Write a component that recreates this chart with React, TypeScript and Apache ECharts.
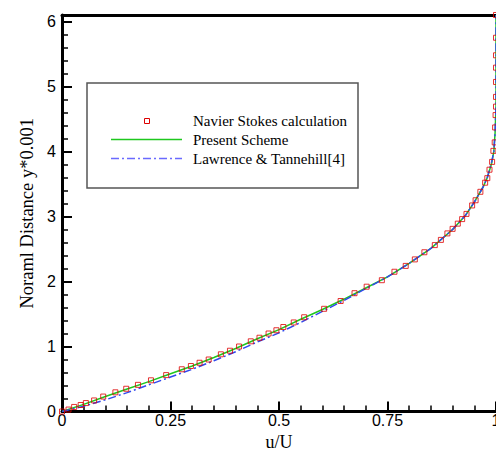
import React, { useEffect, useRef } from "react";
import * as echarts from "echarts";

// Navier Stokes calculation (squares)
const nsU = [0, 0.015, 0.028, 0.043, 0.055, 0.074, 0.095, 0.123, 0.148, 0.175, 0.205, 0.24, 0.276, 0.297, 0.317, 0.338, 0.366, 0.387, 0.408, 0.435, 0.455, 0.476, 0.494, 0.51, 0.534, 0.558, 0.604, 0.642, 0.674, 0.702, 0.737, 0.766, 0.792, 0.813, 0.835, 0.859, 0.873, 0.888, 0.9, 0.912, 0.922, 0.932, 0.945, 0.953, 0.964, 0.975, 0.98, 0.985, 0.991, 0.994, 0.997, 0.998, 0.999, 1, 1, 1, 1, 1, 1, 1];
const nsY = [0, 0.03, 0.07, 0.1, 0.13, 0.17, 0.23, 0.295, 0.35, 0.41, 0.48, 0.56, 0.65, 0.7, 0.75, 0.8, 0.88, 0.935, 1.0, 1.08, 1.135, 1.2, 1.25, 1.3, 1.37, 1.45, 1.58, 1.7, 1.82, 1.92, 2.02, 2.15, 2.24, 2.34, 2.45, 2.56, 2.64, 2.74, 2.81, 2.89, 2.96, 3.04, 3.17, 3.25, 3.38, 3.52, 3.59, 3.72, 3.84, 4.01, 4.14, 4.37, 4.56, 4.69, 4.84, 5.07, 5.29, 5.48, 5.75, 6.1];

// Present Scheme (green solid line)
const presentU = [0, 0.05, 0.1, 0.15, 0.2, 0.25, 0.3, 0.35, 0.4, 0.45, 0.5, 0.55, 0.6, 0.65, 0.7, 0.75, 0.8, 0.85, 0.9, 0.93, 0.95, 0.97, 0.98, 0.99, 0.995, 0.998, 1, 1];
const presentY = [0, 0.11, 0.23, 0.345, 0.46, 0.58, 0.7, 0.83, 0.97, 1.12, 1.26, 1.42, 1.57, 1.73, 1.9, 2.07, 2.28, 2.51, 2.8, 3.02, 3.22, 3.45, 3.6, 3.82, 4.0, 4.3, 4.7, 6.1];

// Lawrence & Tannehill[4] (blue dash-dot line)
const lawrenceU = [0, 0.05, 0.1, 0.15, 0.2, 0.25, 0.3, 0.35, 0.4, 0.45, 0.5, 0.55, 0.6, 0.65, 0.7, 0.75, 0.8, 0.85, 0.9, 0.93, 0.95, 0.97, 0.98, 0.99, 0.995, 0.998, 1, 1];
const lawrenceY = [0, 0.08, 0.18, 0.29, 0.41, 0.53, 0.65, 0.78, 0.92, 1.07, 1.21, 1.37, 1.54, 1.71, 1.89, 2.07, 2.28, 2.51, 2.8, 3.02, 3.22, 3.45, 3.6, 3.84, 4.0, 4.3, 4.7, 6.1];

// Axis ticks
const yMajorTicks = [0, 1, 2, 3, 4, 5, 6];
const yMinorTicks: number[] = [];
for (let i = 0; i < 6; i++) {
  for (let j = 1; j < 5; j++) yMinorTicks.push(+(i + j * 0.2).toFixed(2));
}

const legendNames = ["Navier Stokes calculation", "Present Scheme", "Lawrence & Tannehill[4]"];

const SERIF = "'Liberation Serif', 'Times New Roman', serif";
const SANS = "'Liberation Sans', Arial, sans-serif";
const RED = "#dd0000";
const GREEN = "#1ec81e";
const BLUE = "#3048ee";

const zip = (a: number[], b: number[]) => a.map((v, i) => [v, b[i]]);

export default function App() {
  const ref = useRef<HTMLDivElement>(null);
  useEffect(() => {
    document.body.style.margin = "0";
    document.body.style.overflow = "hidden";
    const chart = echarts.init(ref.current!, null, { renderer: "svg" });
    const option: any = {
      animation: false,
      backgroundColor: "#fff",
      grid: { left: 62, right: 0, top: 15, bottom: 38.5, containLabel: false, outerBoundsMode: "none" },
      xAxis: [
        {
          type: "value",
          position: "bottom",
          min: 0,
          max: 1,
          interval: 0.25,
          name: "u/U",
          nameLocation: "middle",
          nameGap: 18,
          nameTextStyle: { fontFamily: SERIF, fontSize: 18, lineHeight: 18, color: "#000" },
          axisLine: { show: true, onZero: false, lineStyle: { color: "#000", width: 3 } },
          axisTick: { show: true, inside: true, length: 10, lineStyle: { color: "#000", width: 2 } },
          minorTick: { show: true, splitNumber: 5, length: 6, lineStyle: { color: "#000", width: 1.5 } },
          axisLabel: { margin: 1, fontFamily: SANS, fontSize: 16, color: "#000" },
          splitLine: { show: false },
        },
        {
          type: "value",
          position: "top",
          min: 0,
          max: 1,
          axisLine: { show: true, onZero: false, lineStyle: { color: "#000", width: 3 } },
          axisTick: { show: false },
          axisLabel: { show: false },
          splitLine: { show: false },
        },
      ],
      yAxis: [
        {
          type: "value",
          position: "left",
          min: 0,
          max: 6.1,
          name: "Noraml Distance y*0.001",
          nameLocation: "middle",
          nameRotate: 90,
          nameGap: 26,
          nameTextStyle: { fontFamily: SERIF, fontSize: 18.5, color: "#000" },
          axisLine: { show: true, onZero: false, lineStyle: { color: "#000", width: 3 } },
          axisTick: { show: true, inside: true, length: 10, customValues: yMajorTicks, lineStyle: { color: "#000", width: 2 } },
          axisLabel: { margin: 6, fontFamily: SANS, fontSize: 16, color: "#000", customValues: yMajorTicks },
          splitLine: { show: false },
        },
        {
          type: "value",
          position: "left",
          min: 0,
          max: 6.1,
          axisLine: { show: false },
          axisTick: { show: true, inside: true, length: 6, customValues: yMinorTicks, lineStyle: { color: "#000", width: 1.5 } },
          axisLabel: { show: false },
          splitLine: { show: false },
        },
      ],
      series: [
        {
          name: legendNames[1],
          type: "line",
          data: zip(presentU, presentY),
          showSymbol: false,
          symbol: "none",
          lineStyle: { color: GREEN, width: 1.5 },
          z: 2,
        },
        {
          name: legendNames[2],
          type: "line",
          data: zip(lawrenceU, lawrenceY),
          showSymbol: false,
          symbol: "none",
          lineStyle: { color: BLUE, width: 1.5, type: [8, 3, 2, 3] },
          z: 3,
        },
        {
          name: legendNames[0],
          type: "scatter",
          data: zip(nsU, nsY),
          symbol: "rect",
          symbolSize: 5,
          clip: false,
          itemStyle: { color: "rgba(255,255,255,0)", borderColor: RED, borderWidth: 1 },
          z: 4,
        },
      ],
      graphic: [
        {
          type: "rect",
          shape: { x: 87, y: 83, width: 271, height: 105 },
          style: { fill: "#fff", stroke: "#555", lineWidth: 1.5 },
          z: 10,
        },
        {
          type: "rect",
          shape: { x: 144.5, y: 118.5, width: 5, height: 5 },
          style: { fill: "rgba(255,255,255,0)", stroke: RED, lineWidth: 1 },
          z: 11,
        },
        {
          type: "line",
          shape: { x1: 111, y1: 139.5, x2: 182, y2: 139.5 },
          style: { stroke: GREEN, lineWidth: 1.5 },
          z: 11,
        },
        {
          type: "line",
          shape: { x1: 111, y1: 158.5, x2: 182, y2: 158.5 },
          style: { stroke: "#6a6aff", lineWidth: 1.5, lineDash: [8, 3, 2, 3] },
          z: 11,
        },
        ...legendNames.map((t, i) => ({
          type: "text",
          x: 193,
          y: [121, 139.5, 158.5][i],
          style: { text: t, fontFamily: SERIF, fontSize: 15, fill: "#000", verticalAlign: "middle", align: "left" },
          z: 11,
        })),
      ],
    };
    chart.setOption(option);
    return () => chart.dispose();
  }, []);
  return <div ref={ref} style={{ width: 496, height: 450 }} />;
}
